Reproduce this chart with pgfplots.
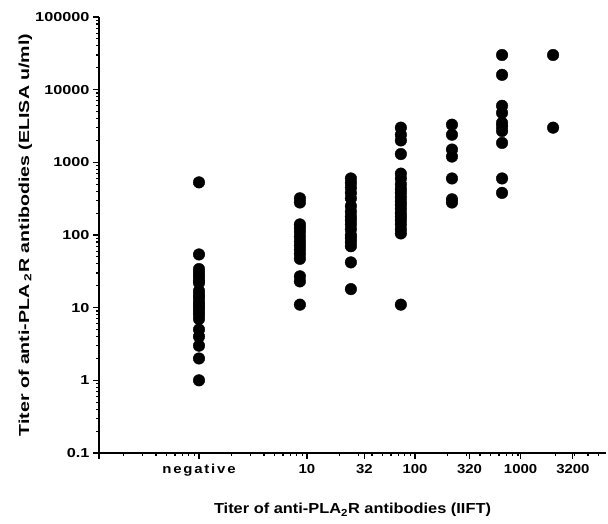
\documentclass[border=0pt]{standalone}
\usepackage{fontspec}
\setmainfont{Liberation Sans}
\usepackage{graphicx}
\usepackage{pgfplots}
\pgfplotsset{compat=1.18}
\pgfplotstableread{
x y
1 530
1 54
1 34
1 30
1 27
1 24
1 22
1 17
1 15
1 13.6
1 12
1 11
1 10
1 9
1 8
1 7
1 5
1 4
1 3
1 2
1 1
8.6 320
8.6 280
8.6 140
8.6 125
8.6 110
8.6 95
8.6 82
8.6 72
8.6 63
8.6 55
8.6 47
8.6 27
8.6 23
8.6 11
25.5 600
25.5 520
25.5 450
25.5 380
25.5 320
25.5 250
25.5 210
25.5 180
25.5 160
25.5 140
25.5 120
25.5 100
25.5 90
25.5 80
25.5 70
25.5 42
25.5 18
74 3000
74 2400
74 2000
74 1300
74 700
74 600
74 500
74 430
74 380
74 330
74 290
74 260
74 230
74 200
74 180
74 160
74 140
74 120
74 105
74 11
220 3300
220 2400
220 1500
220 1200
220 600
220 310
220 280
640 30000
640 16000
640 6000
640 4800
640 3500
640 3100
640 2700
640 1850
640 600
640 380
1900 30000
1900 3000
}\pts
\newcommand{\wx}[1]{\scalebox{1.15}[1]{#1}}
\newcommand{\wy}[1]{\scalebox{1.25}[1]{#1}}
\begin{document}
\begin{tikzpicture}[x=1pt,y=1pt]
\useasboundingbox (-99pt,-70pt) rectangle (509pt,453pt);
\begin{axis}[
  at={(0pt,0pt)}, anchor=south west,
  width=507pt, height=436pt, scale only axis,
  xmode=log, ymode=log,
  xmin=0.1186, xmax=5870, ymin=0.1, ymax=100000,
  axis x line*=bottom, axis y line*=left,
  axis line style={line width=1.3pt},
  tick align=outside,
  major tick length=6pt, minor tick length=3pt,
  every tick/.style={black, line width=1.1pt},
  /pgf/number format/assume math mode=true,
  xtick={1,10,34,100,320,950,2900},
  xticklabels={{\addfontfeatures{LetterSpace=12}\wx{negative}},\wx{10},\wx{32},\wx{100},\wx{320},\wx{1000},\wx{3200}},
  extra x ticks={0.1186}, extra x tick labels={},
  minor xtick={0.2,0.3,0.4,0.5,0.6,0.7,0.8,0.9,2,3,4,5,6,7,8,9,20,30,40,50,60,70,80,90,200,300,400,500,600,700,800,900,2000,3000,4000,5000},
  ytick={0.1,1,10,100,1000,10000,100000},
  yticklabels={\wy{0.1},\wy{1},\wy{10},\wy{100},\wy{1000},\wy{10000},\wy{100000}},
  minor ytick={0.2,0.3,0.4,0.5,0.6,0.7,0.8,0.9,2,3,4,5,6,7,8,9,20,30,40,50,60,70,80,90,200,300,400,500,600,700,800,900,2000,3000,4000,5000,6000,7000,8000,9000,20000,30000,40000,50000,60000,70000,80000,90000},
  tick label style={font=\fontsize{13}{15}\selectfont\bfseries},
  xticklabel style={yshift=-2pt},
  xlabel={\scalebox{1.13}[1]{Titer of anti-PLA\textsubscript{2}R antibodies (IIFT)}},
  ylabel={\scalebox{1.35}[1]{Titer of anti-PLA\,\textsubscript{2}R antibodies (ELISA u/ml)}},
  label style={font=\fontsize{14.5}{17}\selectfont\bfseries},
  xlabel style={at={(axis description cs:0.5,-0.131)}, anchor=center},
  ylabel style={at={(axis description cs:-0.145,0.5)}, anchor=center},
  clip=false,
]
\addplot[only marks, mark=*, mark size=5.8pt, black] table[x=x,y=y] {\pts};
\end{axis}
\end{tikzpicture}
\end{document}
